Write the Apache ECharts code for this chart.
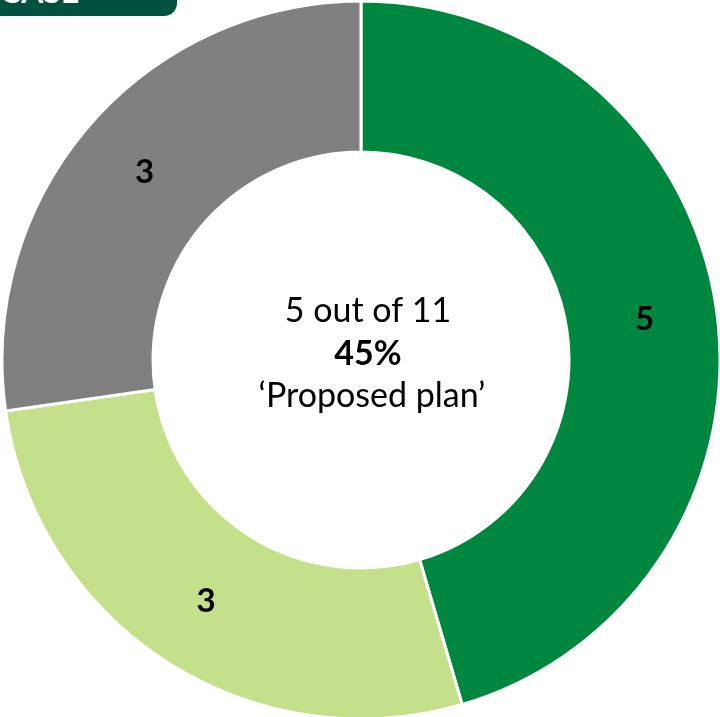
<!DOCTYPE html>
<html>
<head>
<meta charset="utf-8">
<script src="https://cdn.jsdelivr.net/npm/echarts@6/dist/echarts.min.js"></script>
<style>
  html, body { margin: 0; padding: 0; background: #ffffff; }
  #chart { width: 720px; height: 717px; }
</style>
</head>
<body>
<div id="chart"></div>
<script>
// Plan categories and counts
const categories = ['Proposed plan', 'Partial plan', 'No plan'];
const counts = [5, 3, 3];
const sliceColors = ['#00873F', '#C5E08A', '#808080'];

const centerLines = ['5 out of 11', '45%', '\u2018Proposed plan\u2019'];
const headerText = 'CASE';

const FONT = 'Lato, "Open Sans", sans-serif';

const chart = echarts.init(document.getElementById('chart'), null, { renderer: 'canvas' });

function centerText(txt, y, bold, x) {
  return {
    type: 'text',
    x: x, y: y,
    style: {
      text: txt,
      fill: '#000000',
      fontFamily: FONT,
      fontSize: 34,
      fontWeight: bold ? 'bold' : 'normal',
      align: 'center',
      verticalAlign: 'middle'
    }
  };
}

chart.setOption({
  backgroundColor: '#ffffff',
  animation: false,
  series: [{
    type: 'pie',
    center: [361, 360],
    radius: [208, 359],
    startAngle: 90,
    clockwise: true,
    avoidLabelOverlap: false,
    itemStyle: { borderColor: '#ffffff', borderWidth: 3 },
    label: {
      show: true,
      position: 'inside',
      formatter: '{c}',
      color: '#000000',
      fontFamily: FONT,
      fontWeight: 'bold',
      fontSize: 33,
      padding: [6, 0, 0, 0]
    },
    labelLine: { show: false },
    emphasis: { disabled: true },
    data: categories.map((name, i) => ({
      name: name,
      value: counts[i],
      itemStyle: { color: sliceColors[i] }
    }))
  }],
  graphic: [
    {
      type: 'rect',
      shape: { x: -20, y: -20, width: 197, height: 36, r: [0, 0, 13, 0] },
      style: { fill: '#00503F' }
    },
    {
      type: 'text',
      x: 0, y: 9,
      style: {
        text: headerText,
        fill: '#ffffff',
        fontFamily: FONT,
        fontSize: 32,
        fontWeight: 'bold',
        verticalAlign: 'bottom'
      }
    },
    centerText(centerLines[0], 311, false, 368),
    centerText(centerLines[1], 354, true, 368),
    centerText(centerLines[2], 396, false, 372)
  ]
});
</script>
</body>
</html>
